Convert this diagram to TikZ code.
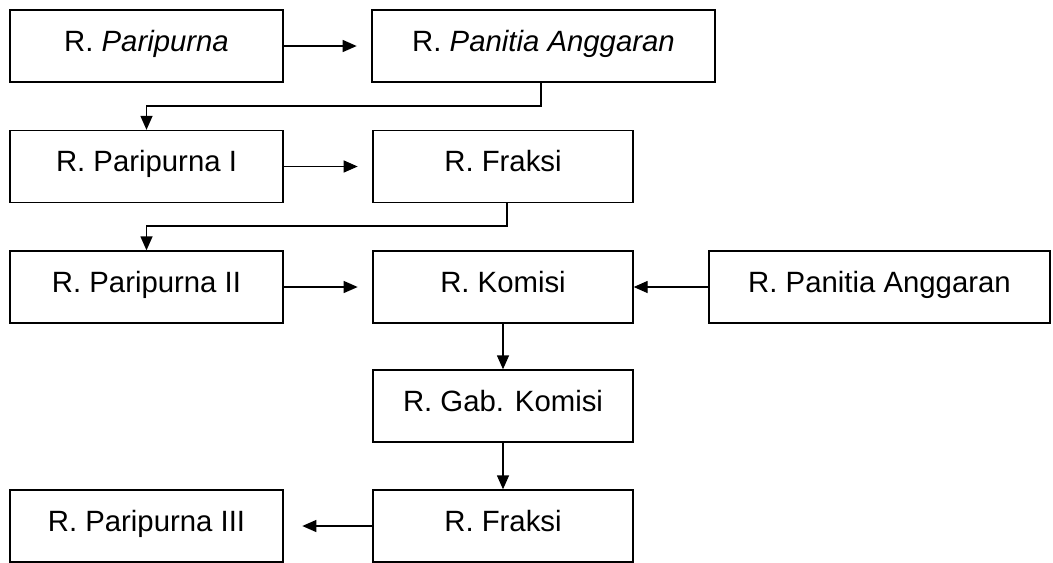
\documentclass[tikz,border=0pt]{standalone}
\usepackage{fontspec}
\setmainfont{Liberation Sans}
\usetikzlibrary{arrows.meta}

\begin{document}
\begin{tikzpicture}[x=0.75pt,y=0.75pt,yscale=-1,xscale=1,
    room/.style={draw, line width=1pt, minimum height=54pt, inner sep=0pt,
        text height=16pt, text depth=8pt, font=\fontsize{22}{26}\selectfont},
    leftroom/.style={room, minimum width=204.75pt},
    midroom/.style={room, minimum width=195pt},
    flow/.style={line width=1pt, -{Triangle[length=10.5pt,width=9pt]}}]
        \useasboundingbox (0,0) rectangle (1053,562);

        % rooms
        \node [leftroom] (paripurna) at (146.5,46) {R. \textit{Paripurna}};
        \node [room, minimum width=257.25pt] (panitia) at (543.5,46) {R. \textit{Panitia Anggaran}};
        \node [leftroom] (paripurnaI) at (146.5,166.5) {R. Paripurna I};
        \node [midroom] (fraksi) at (503,166.5) {R. Fraksi};
        \node [leftroom] (paripurnaII) at (146.5,287) {R. Paripurna II};
        \node [midroom] (komisi) at (503,287) {R. Komisi};
        \node [room, minimum width=255.75pt] (panitiaB) at (879.5,287) {R. Panitia Anggaran};
        \node [midroom] (gabkomisi) at (503,406) {R. Gab. Komisi};
        \node [midroom] (fraksiB) at (503,526) {R. Fraksi};
        \node [leftroom] (paripurnaIII) at (146.5,526) {R. Paripurna III};

        \coordinate (bendA) at (541,106);
        \coordinate (bendB) at (507,226);

        % flow
        \draw [flow, shorten >=11pt] (paripurna.east) -- (panitia.west);
        \draw [flow] (bendA |- panitia.south) -- (bendA) -| (paripurnaI.north);
        \draw [flow, shorten >=11pt] (paripurnaI.east) -- (fraksi.west);
        \draw [flow] (bendB |- fraksi.south) -- (bendB) -| (paripurnaII.north);
        \draw [flow, shorten >=11pt] (paripurnaII.east) -- (komisi.west);
        \draw [flow] (panitiaB.west) -- (komisi.east);
        \draw [flow] (komisi.south) -- (gabkomisi.north);
        \draw [flow] (gabkomisi.south) -- (fraksiB.north);
        \draw [flow, shorten >=14pt] (fraksiB.west) -- (paripurnaIII.east);

    \end{tikzpicture}
\end{document}
